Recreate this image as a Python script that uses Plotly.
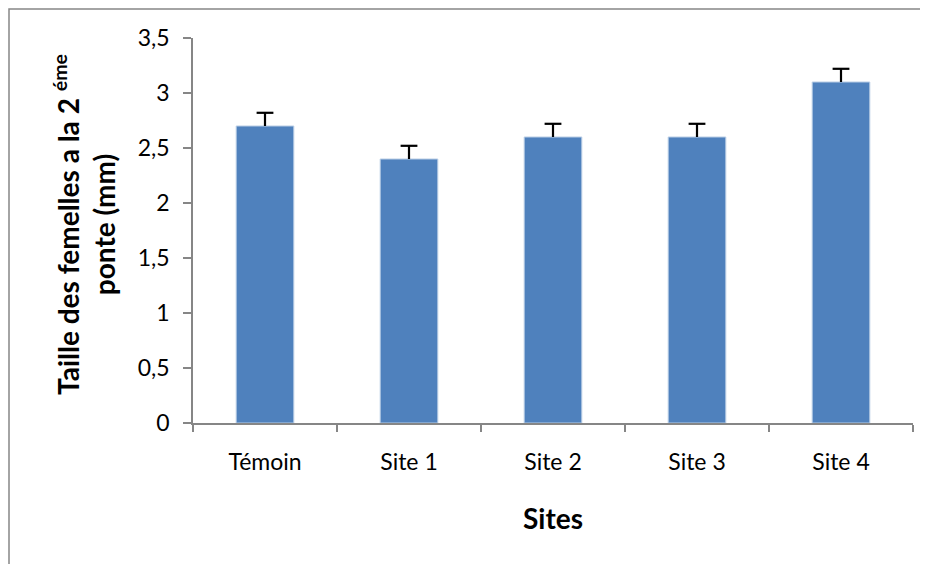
import plotly.graph_objects as go

categories = ["Témoin", "Site 1", "Site 2", "Site 3", "Site 4"]
values = [2.7, 2.4, 2.6, 2.6, 3.1]
errors = [0.12, 0.12, 0.12, 0.12, 0.12]
y_ticks = [0, 0.5, 1, 1.5, 2, 2.5, 3, 3.5]

# browser body margin offset (page draws the figure 8px in from the corner)
OFF = 8
W, H = 928 - OFF, 564 - OFF
L, R, T, B = 193 - OFF, 15, 38 - OFF, 141
pw, ph = W - L - R, H - T - B

FONT = "Lato"

fig = go.Figure()
fig.add_trace(go.Bar(
    x=categories, y=values, width=0.4,
    marker=dict(color="#4F81BD", line=dict(color="#B9CDE5", width=1)),
    showlegend=False, hoverinfo="x+y",
))

# plus-only error bars: stem + top cap
ex, ey = [], []
for c, v, e in zip(categories, values, errors):
    ex += [c, c, None]
    ey += [v, v + e, None]
fig.add_trace(go.Scatter(x=ex, y=ey, mode="lines",
                         line=dict(color="black", width=2.2),
                         showlegend=False, hoverinfo="skip"))
fig.add_trace(go.Scatter(x=categories, y=[v + e for v, e in zip(values, errors)],
                         mode="markers",
                         marker=dict(symbol="line-ew", size=12,
                                     line=dict(color="black", width=2.2)),
                         showlegend=False, hoverinfo="skip"))

def px_x(p):
    return (p - OFF - L) / pw

def px_y(p):
    return 1 - (p - OFF - T) / ph

fig.update_layout(
    width=W, height=H,
    margin=dict(l=L, r=R, t=T, b=B),
    paper_bgcolor="white", plot_bgcolor="white",
    separators=", ",
    font=dict(family=FONT, color="black", size=23),
    xaxis=dict(
        type="category", tickson="boundaries", ticks="outside", ticklen=7,
        tickcolor="#868686", tickwidth=1.5,
        showline=True, linecolor="#868686", linewidth=1.5,
        showgrid=False, tickfont=dict(size=23, family=FONT),
        ticklabelstandoff=18,
    ),
    yaxis=dict(
        range=[0, 3.5], tickvals=y_ticks, ticks="outside", ticklen=8,
        tickcolor="#868686", tickwidth=1.5,
        showline=True, linecolor="#868686", linewidth=1.5,
        showgrid=False, zeroline=False, tickfont=dict(size=23, family=FONT),
        ticklabelstandoff=9,
    ),
    shapes=[dict(type="rect", xref="paper", yref="paper",
                 x0=px_x(9), x1=px_x(980), y0=px_y(620), y1=px_y(9),
                 line=dict(color="#878787", width=1.5), layer="below")],
    annotations=[
        dict(text="<b>Taille des femelles a la 2 <sup>éme</sup><br>ponte (mm)</b>",
             xref="paper", yref="paper", x=px_x(84), y=px_y(225),
             xanchor="center", yanchor="middle", textangle=-90,
             showarrow=False, font=dict(size=28, family=FONT, color="black")),
        dict(text="<b>Sites</b>", xref="paper", yref="paper",
             x=px_x(553), y=px_y(518), xanchor="center", yanchor="middle",
             showarrow=False, font=dict(size=28, family=FONT, color="black")),
    ],
)

fig.write_html("out.html")
